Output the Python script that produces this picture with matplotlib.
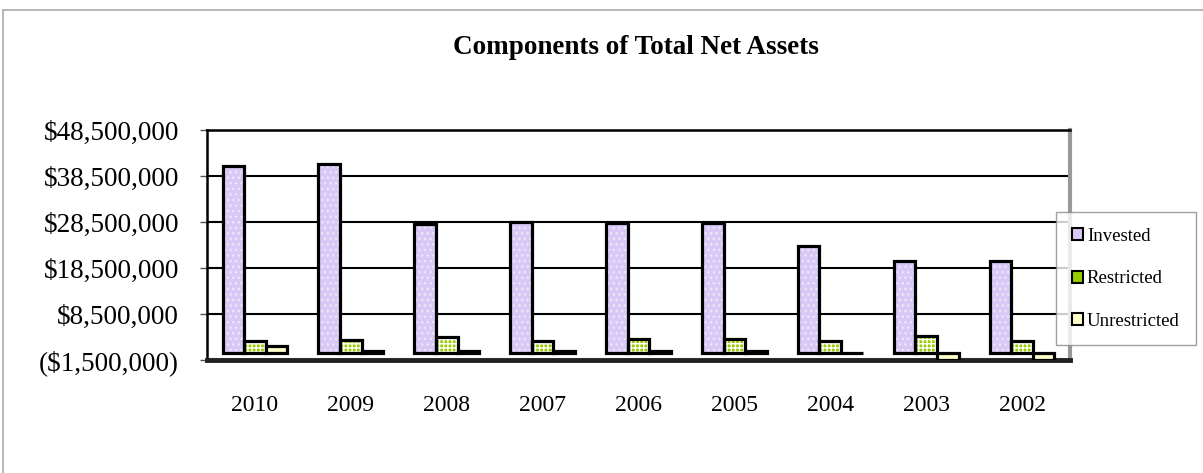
import matplotlib.pyplot as plt
import numpy as np
from matplotlib.patches import Patch
from matplotlib.lines import Line2D
from matplotlib.ticker import FuncFormatter

plt.rcParams['font.family'] = ['Liberation Serif', 'DejaVu Serif']
plt.rcParams['hatch.linewidth'] = 1.0

years = ['2010', '2009', '2008', '2007', '2006', '2005', '2004', '2003', '2002']
invested = [40.7, 41.1, 28.1, 28.5, 28.2, 28.3, 23.2, 20.0, 20.0]
restricted = [2.6, 2.8, 3.5, 2.6, 3.1, 3.1, 2.6, 3.7, 2.6]
unrestricted = [1.5, 0.4, 0.4, 0.4, 0.4, 0.4, 0.1, -1.4, -1.4]
series_names = ['Invested', 'Restricted', 'Unrestricted']

W, H = 1203, 473
fig = plt.figure(figsize=(W / 100, H / 100), dpi=100)
ax = fig.add_axes([207 / W, (H - 360) / H, (1070 - 207) / W, (360 - 130) / H])

x = np.arange(len(years))
bw = 0.225
scale = 1e6

inv = np.array(invested) * scale
res = np.array(restricted) * scale
unr = np.array(unrestricted) * scale

# invested: lavender with faint dotted texture
ax.bar(x - bw, inv, bw, color='#D9C8F6', edgecolor='#EEE6FC', linewidth=0,
       hatch='...', zorder=3)
ax.bar(x - bw, inv, bw, fill=False, edgecolor='black', linewidth=2.3, zorder=4)

# restricted: green with white grid
ax.bar(x, res, bw, color='#99CC00', edgecolor='white', linewidth=0,
       hatch='++++', zorder=3)
ax.bar(x, res, bw, fill=False, edgecolor='black', linewidth=2.3, zorder=4)

# unrestricted: pale yellow
ax.bar(x + bw, unr, bw, color='#FFFFCC', edgecolor='black', linewidth=2.3, zorder=4)

ax.set_xlim(-0.5, len(years) - 0.5)
ax.set_ylim(-1.5e6, 48.5e6)
ax.set_yticks(np.arange(-1.5e6, 48.6e6, 10e6))


def money(v, pos):
    if v < 0:
        return '(${:,.0f})'.format(-v)
    return '${:,.0f}'.format(v)


ax.yaxis.set_major_formatter(FuncFormatter(money))
ax.set_xticks(x)
ax.set_xticklabels(years)
ax.tick_params(axis='x', length=0, pad=25, labelsize=17)
ax.tick_params(axis='y', length=5, width=1, direction='out', pad=15,
               labelsize=19.5, color='#555555')

ax.grid(axis='y', color='black', linewidth=1.5, zorder=1)
ax.set_axisbelow(True)

for side in ['left', 'top']:
    ax.spines[side].set_color('black')
    ax.spines[side].set_linewidth(1.8)
ax.spines['bottom'].set_color('#222222')
ax.spines['bottom'].set_linewidth(3.5)
ax.spines['right'].set_color('#999999')
ax.spines['right'].set_linewidth(3)

# floor shading just above the base line
ax.axhspan(-1.5e6, -1.1e6, color='#E4E4E4', zorder=2)

fig.text(636 / W, 1 - 48 / H, 'Components of Total Net Assets',
         fontsize=19.5, fontweight='bold', ha='center', va='center')

# outer chart border
fig.add_artist(Line2D([3 / W, 3 / W], [1 - 10 / H, 0], color='#AAAAAA', lw=1.2))
fig.add_artist(Line2D([3 / W, 1], [1 - 10 / H, 1 - 10 / H], color='#AAAAAA', lw=1.2))

handles = [
    Patch(facecolor='#D9C8F6', edgecolor='black', linewidth=1.5),
    Patch(facecolor='#99CC00', edgecolor='black', linewidth=1.5),
    Patch(facecolor='#FFFFCC', edgecolor='black', linewidth=1.5),
]
leg = fig.legend(handles, series_names, loc='upper left',
                 bbox_to_anchor=(1056 / W, 1 - 212 / H),
                 bbox_transform=fig.transFigure,
                 fontsize=13.5, frameon=True, fancybox=False,
                 handlelength=0.6, handleheight=0.6, handletextpad=0.2,
                 labelspacing=1.35, borderpad=0.85, borderaxespad=0)
leg.get_frame().set_edgecolor('#888888')
leg.get_frame().set_linewidth(1)

fig.savefig('out.png', dpi=100)
